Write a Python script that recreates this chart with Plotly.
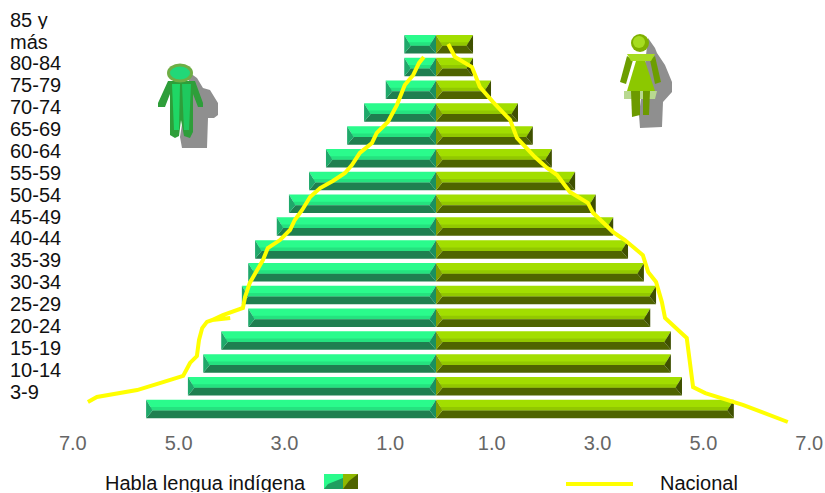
import plotly.graph_objects as go

age_labels = ["85 y<br>más", "80-84", "75-79", "70-74", "65-69", "60-64", "55-59", "50-54", "45-49",
              "40-44", "35-39", "30-34", "25-29", "20-24", "15-19", "10-14", "3-9"]
# values listed from the top bar to the bottom bar
male = [0.60, 0.60, 0.95, 1.36, 1.68, 2.08, 2.40, 2.78, 3.01, 3.42, 3.55, 3.67, 3.55, 4.06, 4.40, 4.69, 5.48]
female = [0.70, 0.70, 1.04, 1.55, 1.83, 2.19, 2.63, 3.02, 3.35, 3.63, 3.93, 4.16, 4.05, 4.44, 4.44, 4.65, 5.63]
tick_values = [7.0, 5.0, 3.0, 1.0, 1.0, 3.0, 5.0, 7.0]
nat_left_x = [-0.23, -0.32, -0.43, -0.59, -0.74, -0.91, -1.12, -1.21, -1.44, -1.59, -1.72, -1.95, -2.19, -2.38, -2.53,
              -2.67, -2.76, -2.95, -3.18, -3.27, -3.38, -3.52, -3.61, -3.65, -4.03, -4.23, -3.89, -4.23, -4.33, -4.42,
              -4.48, -4.52, -4.65, -4.78, -5.16, -5.65, -6.41, -6.58]
nat_left_y = [15.44, 15.18, 14.65, 14.21, 13.33, 12.59, 12.11, 11.67, 11.23, 10.70, 10.35, 10.00, 9.69, 9.30, 8.73,
              8.29, 7.85, 7.41, 7.06, 6.54, 6.10, 5.53, 4.91, 4.43, 4.12, 3.90, 3.99, 3.90, 3.82, 3.55,
              3.03, 2.32, 2.02, 1.45, 1.18, 0.83, 0.53, 0.31]
nat_right_x = [0.23, 0.36, 0.68, 0.83, 1.08, 1.40, 1.53, 1.87, 2.10, 2.29, 2.53, 2.87, 2.97, 3.35, 3.57, 3.91, 4.01,
               4.16, 4.27, 4.33, 4.74, 4.86, 5.09, 5.80, 6.65]
nat_right_y = [16.01, 15.44, 15.00, 14.12, 13.46, 12.68, 11.89, 11.05, 10.57, 10.26, 9.52, 9.04, 8.60, 7.76, 7.41,
               6.75, 6.01, 5.57, 4.69, 3.99, 3.11, 0.96, 0.70, 0.18, -0.57]

W, H, B = 825, 493, 68
PX = 52.9
PY = 22.8
X0 = 436
Y0 = 409
BAR_H = 18.5 / PY
n = len(age_labels)
ys = [n - 1 - i for i in range(n)]


def facets(values, sign):
    """Bevelled bar facets, built from the data values."""
    bx = 6.5 / PX
    upper, band, lower, inner, outer = ([], []), ([], []), ([], []), ([], []), ([], [])

    def add(f, pts):
        f[0].extend([p[0] for p in pts] + [None])
        f[1].extend([p[1] for p in pts] + [None])

    for v, y in zip(values, ys):
        e = sign * v
        d = sign * bx
        t, b = y + BAR_H / 2, y - BAR_H / 2
        m = y - 1.5 / PY
        k = m + 3.5 / PY
        add(upper, [(0, t), (e, t), (e - d, m), (d, m)])
        add(band, [(d * 0.55, k), (e - d * 0.55, k), (e - d, m), (d, m)])
        add(lower, [(0, b), (e, b), (e - d, m), (d, m)])
        add(inner, [(0, t), (d, m), (0, b)])
        add(outer, [(e, t), (e - d, m), (e, b)])
    return upper, band, lower, inner, outer


def poly(f, color):
    return go.Scatter(x=f[0], y=f[1], fill="toself", fillcolor=color, mode="lines", line=dict(width=0, color=color),
                      hoverinfo="skip", showlegend=False)


fig = go.Figure()
mu, mb, ml, mi, mo = facets(male, -1)
fu, fb, fl, fi, fo = facets(female, 1)
for f, c in [(mu, "#2AFB8C"), (mb, "#25E27F"), (ml, "#1F7F50"), (mo, "#1FA86A"), (mi, "#1A9060")]:
    fig.add_trace(poly(f, c))
for f, c in [(fu, "#A2DE00"), (fb, "#92C800"), (fl, "#4F6400"), (fi, "#7FA000"), (fo, "#3F5000")]:
    fig.add_trace(poly(f, c))
line_style = dict(color="#FFFF00", width=4)
fig.add_trace(go.Scatter(x=nat_left_x, y=nat_left_y, mode="lines", line=line_style, hoverinfo="skip", showlegend=False))
fig.add_trace(go.Scatter(x=nat_right_x, y=nat_right_y, mode="lines", line=line_style, hoverinfo="skip", showlegend=False))


def px(x):
    return x / W


def py(y):
    return 1 - y / (H - B)


def path(points):
    return "M " + " L ".join(f"{px(a):.5f},{py(b):.5f}" for a, b in points) + " Z"


def shp(points, color):
    return dict(type="path", xref="paper", yref="paper", path=path(points),
                fillcolor=color, line=dict(width=0), layer="above")


def ell(cx, cy, rx, ry, color):
    return dict(type="circle", xref="paper", yref="paper", x0=px(cx - rx), x1=px(cx + rx),
                y0=py(cy - ry), y1=py(cy + ry), fillcolor=color, line=dict(width=0), layer="above")


man_shadow = [(190, 73), (197, 78), (203, 88), (210, 90), (218, 103), (218, 115), (214, 118), (208, 118), (207, 148),
              (182, 148), (180, 137)]
man_body = [(168, 81), (195, 81), (203, 103), (203, 107), (198, 107), (193, 94), (193, 132), (190, 138), (184, 136),
            (181, 120), (179, 136), (175, 138), (170, 135), (170, 94), (165, 107), (158, 107), (158, 103)]
man_left = [(172, 84), (180, 84), (179, 130), (174, 130)]
man_right = [(182, 84), (191, 84), (189, 130), (184, 130)]
woman_shadow = [(648, 38), (655, 48), (657, 53), (665, 65), (672, 82), (672, 92), (663, 102), (662, 127), (640, 128),
                (639, 115)]
woman_arm1 = [(627, 56), (633, 60), (626, 84), (620, 82)]
woman_arm2 = [(655, 56), (650, 60), (655, 84), (661, 82)]
woman_top = [(627, 54), (655, 54), (651, 61), (631, 61)]
woman_dress = [(636, 61), (645, 61), (655, 91), (627, 91)]
woman_hem = [(624, 91), (657, 91), (655, 99), (624, 99)]
woman_leg1 = [(631, 91), (640, 91), (640, 115), (632, 117)]
woman_leg2 = [(643, 91), (650, 91), (649, 115), (643, 115)]

shapes = []
g = "#8F8F8F"
shapes += [shp(man_shadow, g), shp(man_body, "#2E9E3A"), shp(man_left, "#1FD765"), shp(man_right, "#1FC95E"),
           ell(180, 73, 13, 9.5, "#6FAE45"), ell(180, 73, 10, 6.5, "#22D878")]
shapes += [shp(woman_shadow, g), shp(woman_hem, "#B8D890"), shp(woman_arm1, "#6C9E00"), shp(woman_arm2, "#6C9E00"),
           shp(woman_dress, "#8CC800"), shp(woman_leg1, "#6C9A00"), shp(woman_leg2, "#6C9A00"),
           shp(woman_top, "#A6DC20"), ell(640, 43, 9, 9, "#7FB000"), ell(639, 42, 6, 6, "#A6DC20")]
# legend swatches and line
shapes += [shp([(324, 474), (343, 474), (343, 489), (324, 489)], "#2AFB8C"),
           shp([(328, 484), (343, 478), (343, 489), (324, 489)], "#1F9F60"),
           shp([(343, 474), (358, 474), (358, 489), (343, 489)], "#8FB800"),
           shp([(349, 481), (358, 474), (358, 489), (343, 489)], "#4F6400"),
           dict(type="line", xref="paper", yref="paper", x0=px(566), x1=px(633), y0=py(484), y1=py(484),
                line=dict(color="#FFFF00", width=4), layer="above")]


def label(x, y, text):
    return dict(x=px(x), y=py(y), xref="paper", yref="paper", text=text, showarrow=False, xanchor="left",
                yanchor="middle", align="left", font=dict(size=20, color="#111111"), xshift=-2, height=18)


ann = []
# age labels run on their own spacing in the original, not the bars'
first_lines = age_labels[0].split("<br>")
ann.append(label(10, 20.5, first_lines[0]))
ann.append(label(10, 41.5, first_lines[1]))
for i, lab in enumerate(age_labels[1:]):
    ann.append(label(10, 63 + i * 21.93, lab))
ann.append(label(105, 483, "Habla lengua indígena"))
ann.append(label(660, 483, "Nacional"))

tick_sign = [-1, -1, -1, -1, 1, 1, 1, 1]
tick_shift = 5 / PX  # axis labels sit 5 px right of the bars' zero line
tick_inset = 0.04  # and slightly closer to the centre than the bar scale
fig.update_layout(
    width=W, height=H, margin=dict(l=0, r=0, t=0, b=B, pad=0),
    paper_bgcolor="white", plot_bgcolor="white", showlegend=False,
    font=dict(family="Liberation Sans"), shapes=shapes, annotations=ann,
    xaxis=dict(range=[-X0 / PX, (W - X0) / PX], showgrid=False, zeroline=False, showline=False, ticks="",
               tickmode="array", tickvals=[s * (v - tick_inset) + tick_shift for s, v in zip(tick_sign, tick_values)],
               ticktext=[f"{v:.1f}" for v in tick_values], ticklabelstandoff=4, ticklabeloverflow="allow",
               tickfont=dict(size=20, color="#666666")),
    yaxis=dict(range=[(Y0 - (H - B)) / PY, Y0 / PY], showgrid=False, zeroline=False, showline=False, showticklabels=False),
)
fig.write_html("out.html", config={"displayModeBar": False}, post_script="document.body.style.margin='0';")
